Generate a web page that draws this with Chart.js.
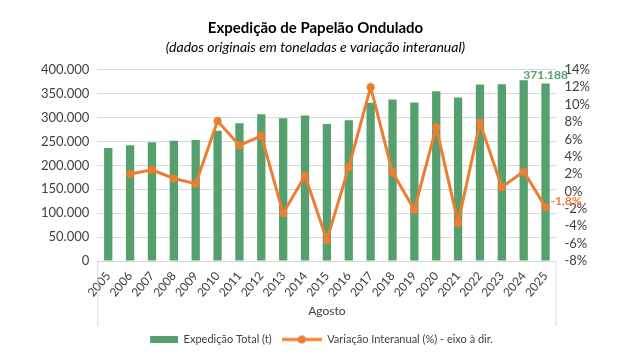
<!DOCTYPE html>
<html>
<head>
<meta charset="utf-8">
<script src="https://cdn.jsdelivr.net/npm/chart.js@4/dist/chart.umd.min.js"></script>
<style>
  body { margin: 0; background: #fff; }
  #wrap { width: 631px; height: 362px; }
</style>
</head>
<body>
<div id="wrap"><canvas id="grafico"></canvas></div>
<script>
const anos = ['2005','2006','2007','2008','2009','2010','2011','2012','2013','2014','2015','2016','2017','2018','2019','2020','2021','2022','2023','2024','2025'];
const expedicao = [236400, 242000, 248300, 251700, 253100, 272700, 288100, 307000, 298600, 304200, 286700, 294400, 330900, 337800, 331500, 355200, 342000, 369200, 370000, 378000, 371188];
const variacao = [null, 2.0, 2.5, 1.5, 0.9, 8.1, 5.3, 6.4, -2.5, 1.8, -5.6, 2.8, 12.0, 2.2, -2.1, 7.4, -3.6, 7.9, 0.5, 2.3, -1.8];

const verde = '#55A06E';
const laranja = '#ED7D31';
const fonte = 'Lato, "Open Sans", sans-serif';

// icones da legenda
function iconeBarra() {
  const c = document.createElement('canvas');
  c.width = 40; c.height = 7;
  const ctx = c.getContext('2d');
  ctx.fillStyle = verde;
  ctx.fillRect(12, 0, 28, 7);
  return c;
}
function iconeLinha() {
  const c = document.createElement('canvas');
  c.width = 40; c.height = 10;
  const ctx = c.getContext('2d');
  ctx.strokeStyle = laranja;
  ctx.lineWidth = 3;
  ctx.beginPath(); ctx.moveTo(0, 5); ctx.lineTo(40, 5); ctx.stroke();
  ctx.fillStyle = laranja;
  ctx.beginPath(); ctx.arc(20, 5, 4, 0, Math.PI * 2); ctx.fill();
  return c;
}

// rotulos do ultimo valor + linhas da area de categorias
const extras = {
  id: 'extras',
  afterDatasetsDraw(chart) {
    const ctx = chart.ctx;
    const barras = chart.getDatasetMeta(0).data;
    const pontos = chart.getDatasetMeta(1).data;
    const ult = expedicao.length - 1;
    ctx.save();
    ctx.font = 'bold 12px ' + fonte;
    ctx.fillStyle = verde;
    ctx.textAlign = 'center';
    ctx.textBaseline = 'bottom';
    ctx.fillText(expedicao[ult].toLocaleString('de-DE'), barras[ult].x, barras[ult].y - 2);
    ctx.fillStyle = laranja;
    ctx.textAlign = 'left';
    ctx.textBaseline = 'middle';
    ctx.fillText(variacao[ult].toFixed(1).replace('.', ',') + '%', pontos[ult].x + 5, pontos[ult].y - 6);

    const a = chart.chartArea;
    ctx.strokeStyle = '#d9d9d9';
    ctx.lineWidth = 1;
    ctx.beginPath();
    ctx.moveTo(a.left + 0.5, a.bottom); ctx.lineTo(a.left + 0.5, a.bottom + 65);
    ctx.moveTo(a.right - 0.5, a.bottom); ctx.lineTo(a.right - 0.5, a.bottom + 65);
    ctx.stroke();
    ctx.restore();
  }
};

new Chart(document.getElementById('grafico'), {
  data: {
    labels: anos,
    datasets: [
      {
        type: 'bar',
        label: 'Expedição Total (t)',
        data: expedicao,
        backgroundColor: verde,
        yAxisID: 'y',
        barPercentage: 0.38,
        categoryPercentage: 1,
        order: 2
      },
      {
        type: 'line',
        label: 'Variação Interanual (%) - eixo à dir.',
        data: variacao,
        borderColor: laranja,
        backgroundColor: laranja,
        borderWidth: 3,
        pointRadius: 4,
        pointBorderWidth: 0,
        tension: 0,
        yAxisID: 'y1',
        order: 1
      }
    ]
  },
  options: {
    responsive: true,
    maintainAspectRatio: false,
    animation: false,
    layout: { padding: { left: 33, right: 33, top: 6, bottom: 7 } },
    plugins: {
      title: {
        display: true,
        text: 'Expedição de Papelão Ondulado',
        color: '#000',
        font: { family: fonte, size: 15, weight: 'bold' },
        padding: { top: 13, bottom: 2 }
      },
      subtitle: {
        display: true,
        text: '(dados originais em toneladas e variação interanual)',
        color: '#000',
        font: { family: fonte, size: 14, style: 'italic' },
        padding: { bottom: 14 }
      },
      legend: {
        position: 'bottom',
        labels: {
          usePointStyle: true,
          pointStyleWidth: 40,
          color: '#404040',
          font: { family: fonte, size: 11 },
          padding: 10,
          generateLabels(chart) {
            return chart.data.datasets.map((ds, i) => ({
              text: ds.label,
              pointStyle: i === 0 ? iconeBarra() : iconeLinha(),
              fontColor: '#404040',
              datasetIndex: i,
              hidden: false,
              lineWidth: 0
            }));
          }
        }
      },
      tooltip: { enabled: false }
    },
    scales: {
      x: {
        grid: { display: false },
        border: { display: false },
        ticks: {
          color: '#404040',
          font: { family: fonte, size: 12 },
          autoSkip: false,
          minRotation: 50,
          maxRotation: 50,
          padding: 0
        },
        title: {
          display: true,
          text: 'Agosto',
          color: '#404040',
          font: { family: fonte, size: 12 },
          padding: { top: 4, bottom: 6 }
        }
      },
      y: {
        position: 'left',
        min: 0,
        max: 400000,
        ticks: {
          stepSize: 50000,
          autoSkip: false,
          color: '#404040',
          font: { family: fonte, size: 13 },
          padding: 8,
          callback: v => v.toLocaleString('de-DE')
        },
        grid: { color: '#d9d9d9', drawTicks: false },
        border: { display: false }
      },
      y1: {
        position: 'right',
        min: -8,
        max: 14,
        ticks: {
          stepSize: 2,
          autoSkip: false,
          color: '#404040',
          font: { family: fonte, size: 13 },
          padding: 8,
          callback: v => v + '%'
        },
        grid: { display: false, drawTicks: false },
        border: { display: false }
      }
    }
  },
  plugins: [extras]
});
</script>
</body>
</html>
